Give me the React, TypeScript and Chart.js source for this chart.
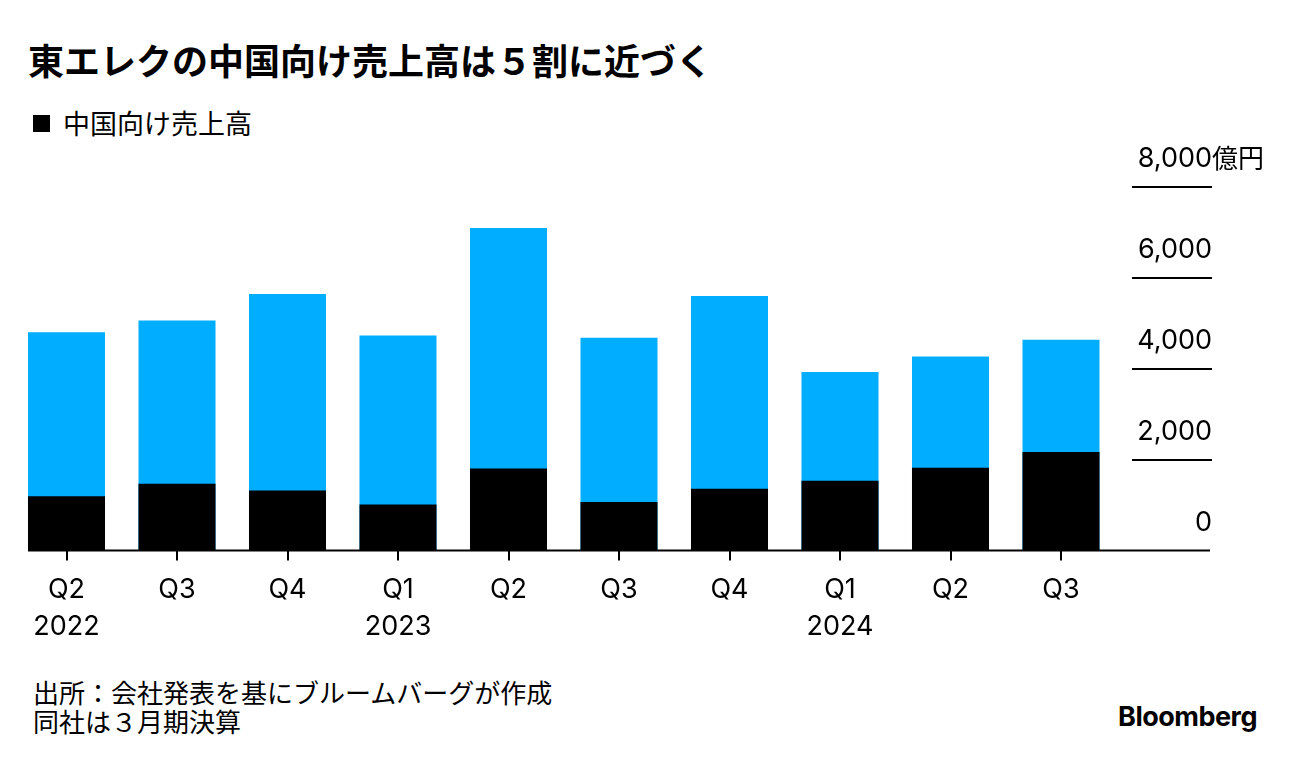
import React, { useEffect, useRef } from 'react';
import { Chart, registerables } from 'chart.js';

Chart.register(...registerables);

// ---- data ----
const quarters = ['Q2', 'Q3', 'Q4', 'Q1', 'Q2', 'Q3', 'Q4', 'Q1', 'Q2', 'Q3'];
const years = ['2022', '', '', '2023', '', '', '', '2024', '', ''];
const chinaSales = [1195, 1465, 1320, 1013, 1803, 1064, 1355, 1531, 1816, 2167];
const totalSales = [4798, 5055, 5640, 4726, 7088, 4675, 5592, 3921, 4265, 4632];
const yTicks = [0, 2000, 4000, 6000, 8000];
const unitLabel = '億円';

const titleText = '東エレクの中国向け売上高は５割に近づく';
const legendText = '中国向け売上高';
const sourceLines = ['出所：会社発表を基にブルームバーグが作成', '同社は３月期決算'];

// ---- styles ----
const JP = '"Noto Sans CJK JP", sans-serif';
const LATIN = 'Inter, "Liberation Sans", "Noto Sans CJK JP", sans-serif';
const BLUE = '#00adff';
const CANVAS_W = 1296;
const CANVAS_H = 520;
const Y_AXIS_W = 95.75;
const LABEL_OFFSET = -28;
const TICK_FONT = 27;

export default function App() {
  const ref = useRef<HTMLCanvasElement | null>(null);

  useEffect(() => {
    const canvas = ref.current;
    if (!canvas) return;
    const mctx = canvas.getContext('2d')!;
    mctx.font = `${TICK_FONT}px ${LATIN}`;
    const widest = Math.max(...yTicks.map((v) => mctx.measureText(v.toLocaleString('en-US')).width));
    const yPad = Math.max(0, Y_AXIS_W - widest);

    const bbgPlugin = {
      id: 'bbgAxes',
      afterDatasetsDraw(chart: any) {
        const { ctx } = chart;
        const y = chart.scales.y;
        const meta = chart.getDatasetMeta(0);
        const first = meta.data[0] as any;
        const left = first.x - first.width / 2;
        const right = y.right - 2;
        const y0 = y.getPixelForValue(0);
        ctx.save();
        ctx.strokeStyle = '#000';
        ctx.lineWidth = 2;
        ctx.beginPath();
        ctx.moveTo(left, y0);
        ctx.lineTo(right, y0);
        ctx.stroke();
        y.ticks.forEach((t: any) => {
          if (t.value === 0) return;
          const py = Math.round(y.getPixelForValue(t.value));
          ctx.beginPath();
          ctx.moveTo(y.right - 80, py);
          ctx.lineTo(y.right, py);
          ctx.stroke();
        });
        ctx.fillStyle = '#000';
        ctx.font = `26px ${JP}`;
        ctx.textAlign = 'left';
        ctx.textBaseline = 'middle';
        ctx.fillText(unitLabel, y.right, y.getPixelForValue(y.max) + LABEL_OFFSET);
        ctx.restore();
      },
    };

    const chart = new Chart(canvas, {
      type: 'bar',
      data: {
        labels: quarters.map((q, i) => (years[i] ? [q, years[i]] : [q])),
        datasets: [
          { label: legendText, data: chinaSales, backgroundColor: '#000000' },
          { label: '売上高', data: totalSales, backgroundColor: BLUE },
        ],
      },
      options: {
        animation: false,
        responsive: false,
        devicePixelRatio: 1,
        layout: { padding: { left: 11.25, right: 84, top: 46.5, bottom: 0 } },
        datasets: { bar: { grouped: false, barPercentage: 0.697, categoryPercentage: 1 } } as any,
        plugins: { legend: { display: false }, tooltip: { enabled: false } },
        scales: {
          x: {
            grid: {
              display: true,
              drawOnChartArea: false,
              drawTicks: true,
              tickLength: 10,
              offset: false,
              color: '#000',
              lineWidth: 2,
            },
            border: { display: false },
            ticks: {
              color: '#000',
              font: { family: LATIN, size: TICK_FONT, lineHeight: 37 / TICK_FONT },
              padding: 11,
              maxRotation: 0,
              autoSkip: false,
            },
            afterFit: (scale: any) => {
              scale.height = 109.5;
            },
          },
          y: {
            position: 'right',
            min: 0,
            max: 8000,
            afterBuildTicks: (scale: any) => {
              scale.ticks = yTicks.map((v) => ({ value: v }));
            },
            grid: { display: false },
            border: { display: false },
            ticks: {
              color: '#000',
              font: { family: LATIN, size: TICK_FONT },
              crossAlign: 'far',
              padding: yPad,
              labelOffset: LABEL_OFFSET,
              callback: (v: any) => Number(v).toLocaleString('en-US'),
            },
            afterFit: (scale: any) => {
              scale.width = Y_AXIS_W;
            },
          },
        },
      } as any,
      plugins: [bbgPlugin],
    });
    return () => chart.destroy();
  }, []);

  return (
    <div style={{ position: 'absolute', left: 0, top: 0, width: 1296, height: 760, background: '#fff', overflow: 'hidden' }}>
      <div style={{ position: 'absolute', left: 28, top: 41, fontFamily: JP, fontWeight: 700, fontSize: 36, lineHeight: '36px', color: '#000', whiteSpace: 'nowrap' }}>
        {titleText}
      </div>
      <div style={{ position: 'absolute', left: 33, top: 115, width: 17, height: 17, background: '#000' }} />
      <div style={{ position: 'absolute', left: 63, top: 109, fontFamily: JP, fontSize: 27, lineHeight: '27px', color: '#000', whiteSpace: 'nowrap' }}>
        {legendText}
      </div>
      <canvas ref={ref} width={CANVAS_W} height={CANVAS_H} style={{ position: 'absolute', left: 0, top: 140, width: CANVAS_W, height: CANVAS_H }} />
      <div style={{ position: 'absolute', left: 33, top: 677, fontFamily: JP, fontSize: 26, lineHeight: '29px', color: '#000', whiteSpace: 'nowrap' }}>
        {sourceLines.map((l, i) => (
          <div key={i}>{l}</div>
        ))}
      </div>
      <div style={{ position: 'absolute', right: 39, top: 703, fontFamily: LATIN, fontWeight: 700, fontSize: 27, lineHeight: '27px', color: '#000', letterSpacing: -0.5 }}>
        Bloomberg
      </div>
    </div>
  );
}
